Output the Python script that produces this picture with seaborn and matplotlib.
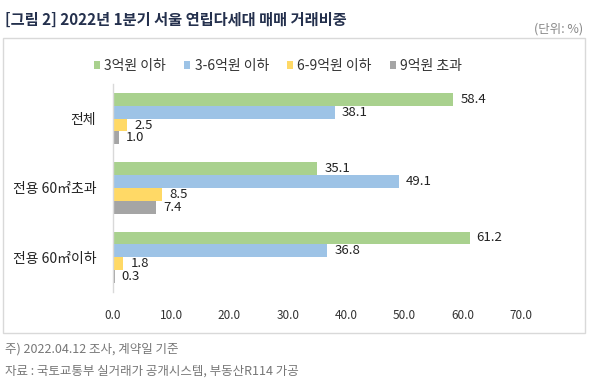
import pandas as pd
import matplotlib.pyplot as plt
import seaborn as sns
from matplotlib.patches import Rectangle

# data
categories = ["전체", "전용 60㎡초과", "전용 60㎡이하"]
series = ["3억원 이하", "3-6억원 이하", "6-9억원 이하", "9억원 초과"]
values = {
    "3억원 이하": [58.4, 35.1, 61.2],
    "3-6억원 이하": [38.1, 49.1, 36.8],
    "6-9억원 이하": [2.5, 8.5, 1.8],
    "9억원 초과": [1.0, 7.4, 0.3],
}
colors = ["#a9d18e", "#9dc3e6", "#ffd966", "#a5a5a5"]
xticks = [0, 10, 20, 30, 40, 50, 60, 70]

rows = []
for s in series:
    for c, v in zip(categories, values[s]):
        rows.append({"구분": c, "구간": s, "비중": v})
df = pd.DataFrame(rows)

sns.set_style("white")
plt.rcParams["font.family"] = ["Noto Sans CJK KR", "DejaVu Sans"]

fig = plt.figure(figsize=(5.94, 3.82), dpi=100)
ax = fig.add_axes([0.190, 0.236, 0.687, 0.544])

sns.barplot(data=df, x="비중", y="구분", hue="구간", order=categories,
            hue_order=series, palette=colors, width=0.74, ax=ax,
            orient="h", saturation=1, edgecolor="none", legend=True)

for cont in ax.containers:
    ax.bar_label(cont, fmt="%.1f", padding=5, fontsize=9.5, color="#222222")

ax.set_xlim(0, 70)
ax.set_ylim(2.5, -0.5)
ax.set_xticks(xticks)
ax.set_xticklabels([f"{t:.1f}" for t in xticks], fontsize=8.5, color="#333333")
ax.tick_params(axis="x", length=0, pad=12)
ax.tick_params(axis="y", length=0, pad=12, labelsize=10, labelcolor="#222222")
ax.set_xlabel("")
ax.set_ylabel("")
for side in ["top", "right", "bottom"]:
    ax.spines[side].set_visible(False)
ax.spines["left"].set_color("#d9d9d9")
ax.spines["left"].set_linewidth(1)

handles, labels = ax.get_legend_handles_labels()
ax.get_legend().remove()
fig.legend(handles, labels, loc="center", bbox_to_anchor=(0.468, 0.827), ncol=4,
           frameon=False, fontsize=10, handlelength=0.45, handleheight=0.45,
           handletextpad=0.3, columnspacing=1.3, labelcolor="#333333")

# frame around the chart
fig.patches.append(Rectangle((3 / 594, 1 - 333 / 382), 582 / 594, 295 / 382,
                             transform=fig.transFigure, fill=False,
                             edgecolor="#d9d9d9", linewidth=1))

fig.text(5 / 594, 1 - 20 / 382, "[그림 2] 2022년 1분기 서울 연립다세대 매매 거래비중",
         fontsize=11, fontweight="bold", color="#24304d", va="center")
fig.text(583 / 594, 1 - 29 / 382, "(단위: %)", fontsize=9, color="#888888",
         ha="right", va="center")
fig.text(5 / 594, 1 - 349 / 382, "주) 2022.04.12 조사, 계약일 기준",
         fontsize=9, color="#777777", va="center")
fig.text(5 / 594, 1 - 371 / 382, "자료 : 국토교통부 실거래가 공개시스템, 부동산R114 가공",
         fontsize=9, color="#777777", va="center")

fig.savefig("out.png", dpi=100)
